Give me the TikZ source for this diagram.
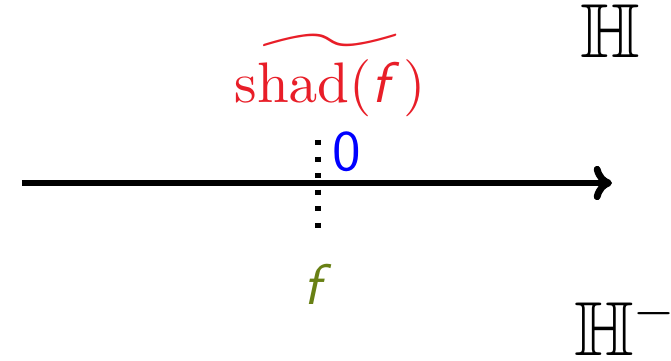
\documentclass[tikz,border=0pt]{standalone}
\usepackage{amssymb}
\usetikzlibrary{arrows.meta}
\definecolor{fgreen}{RGB}{104,128,20}
\definecolor{sred}{RGB}{232,30,40}
\begin{document}
\begin{tikzpicture}[x=0.175pt,y=-0.175pt,
  axis/.style={line width=1.2pt,-{To[length=3.2pt,width=6pt,line width=1.2pt]}},
  dots/.style={dotted,line width=0.9pt},
  lbl/.style={inner sep=0pt,outer sep=0pt}]
\useasboundingbox (0,0) rectangle (671,361);
\coordinate (L) at (22,183);
\coordinate (R) at (612,183);
\draw[axis] (L) -- (R);
\coordinate (T) at (318,140);
\coordinate (B) at (318,228);
\draw[dots] (T) -- (B);
\node[lbl,text=blue,anchor=base] (zero) at (347,170) {\textsf{0}};
\node[lbl,text=fgreen,anchor=base] (f) at (318,304) {\textsf{\itshape f}};
\node[lbl,text=sred,anchor=base] (shad) at (330,102) {$\widetilde{\mathrm{shad}(\textsf{\itshape f\/}\kern0.6pt)}$};
\node[lbl,anchor=base] (H) at (610,58) {\fontsize{13.4}{16}\selectfont$\mathbb{H}$};
\node[lbl,anchor=base west] (Hm) at (574,356) {\fontsize{13.4}{16}\selectfont$\mathbb{H}^{-}$};
\end{tikzpicture}
\end{document}
